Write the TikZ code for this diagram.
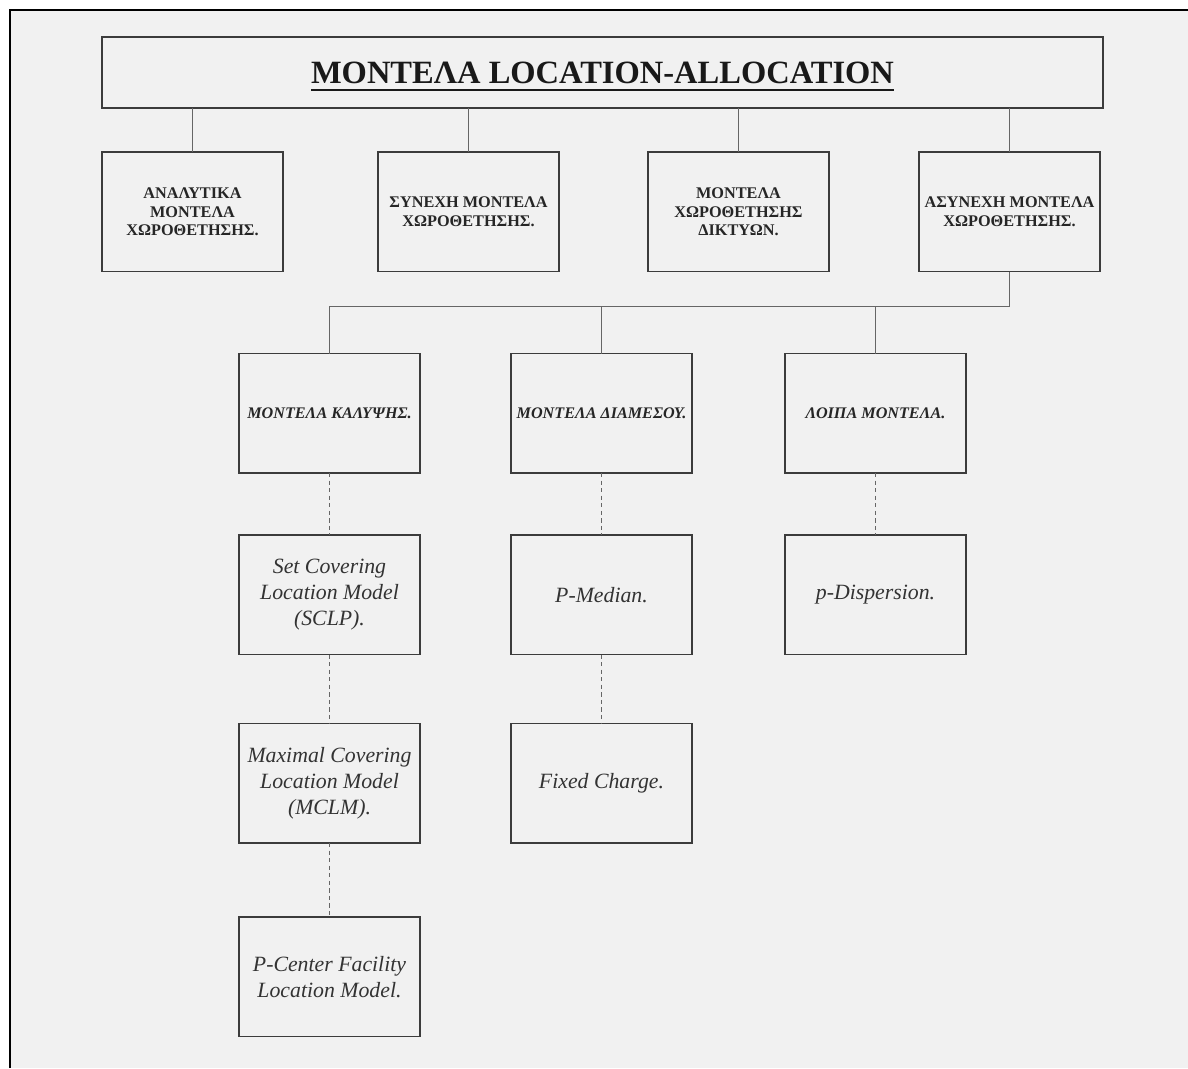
\documentclass[tikz,border=0pt]{standalone}
\usepackage{fontspec}
\setmainfont{Liberation Serif}
\usepackage{tikz}
\usetikzlibrary{positioning}
\definecolor{pagegray}{HTML}{F1F1F1}
\definecolor{boxline}{HTML}{3C3C3C}
\definecolor{wiregray}{HTML}{666666}
\definecolor{leaftext}{HTML}{333333}
\newcommand{\heavyunder}[1]{\setbox0\hbox{#1}\rlap{\smash{\rule[-4.5pt]{\wd0}{1.3pt}}}\box0}

\begin{document}
\begin{tikzpicture}[
		% Styles
		box/.style={rectangle, draw=boxline, line width=1.1pt, fill=pagegray, minimum width=3.62cm, minimum height=2.39cm, align=center, inner sep=2pt, outer sep=0pt},
		head_box/.style={box, minimum width=20.02cm, minimum height=1.42cm, font=\fontsize{18.5}{22}\selectfont\bfseries, text=black!90},
		group_box/.style={box, font=\fontsize{9.25}{10.5}\selectfont\bfseries, text=black!85},
		kind_box/.style={box, font=\fontsize{9.2}{11}\selectfont\bfseries\itshape, text=black!85},
		leaf_box/.style={box, font=\fontsize{12.4}{14.7}\selectfont\itshape, text=leaftext},
		link/.style={draw=wiregray, line width=0.7pt},
		dash_link/.style={link, line width=0.8pt, dash pattern=on 2.4pt off 1.9pt}
	]

	% --- Page ---
	\useasboundingbox (0,0) rectangle (23.76,-21.36);
	\fill[pagegray] (0.2,-0.2) rectangle (23.76,-21.36);
	\draw[line width=1.2pt] (0.2,-21.36) -- (0.2,-0.2) -- (23.76,-0.2);

	% --- Title ---
	\node[head_box] (title) at (12.05,-1.45) {\heavyunder{ΜΟΝΤΕΛΑ LOCATION-ALLOCATION}};

	% --- First level ---
	\node[group_box] (anal) [below=0.88cm of title.south west, anchor=north west] {ΑΝΑΛΥΤΙΚΑ\\ΜΟΝΤΕΛΑ\\ΧΩΡΟΘΕΤΗΣΗΣ.};
	\node[group_box] (syn) [right=1.9cm of anal] {ΣΥΝΕΧΗ ΜΟΝΤΕΛΑ\\ΧΩΡΟΘΕΤΗΣΗΣ.};
	\node[group_box] (dikt) [right=1.78cm of syn] {ΜΟΝΤΕΛΑ\\ΧΩΡΟΘΕΤΗΣΗΣ\\ΔΙΚΤΥΩΝ.};
	\node[group_box] (asyn) [right=1.8cm of dikt] {ΑΣΥΝΕΧΗ ΜΟΝΤΕΛΑ\\ΧΩΡΟΘΕΤΗΣΗΣ.};

	% --- Discrete model kinds ---
	\node[kind_box] (kal) [below=1.64cm of syn, xshift=-2.78cm] {ΜΟΝΤΕΛΑ ΚΑΛΥΨΗΣ.};
	\node[kind_box] (diam) [right=1.82cm of kal] {ΜΟΝΤΕΛΑ ΔΙΑΜΕΣΟΥ.};
	\node[kind_box] (loip) [right=1.86cm of diam] {ΛΟΙΠΑ ΜΟΝΤΕΛΑ.};

	% --- Models ---
	\node[leaf_box] (sclp) [below=1.24cm of kal] {Set Covering\\Location Model\\(SCLP).};
	\node[leaf_box] (mclm) [below=1.38cm of sclp] {Maximal Covering\\Location Model\\(MCLM).};
	\node[leaf_box] (pcent) [below=1.48cm of mclm] {P-Center Facility\\Location Model.};
	\node[leaf_box] (pmed) [below=1.24cm of diam] {P-Median.};
	\node[leaf_box] (fixed) [below=1.38cm of pmed] {Fixed Charge.};
	\node[leaf_box] (pdisp) [below=1.24cm of loip] {p-Dispersion.};

	% --- LINKS ---
	% Title to first level
	\draw[link] (anal.north |- title.south) -- (anal);
	\draw[link] (syn.north |- title.south) -- (syn);
	\draw[link] (dikt.north |- title.south) -- (dikt);
	\draw[link] (asyn.north |- title.south) -- (asyn);

	% Discrete models to kinds
	\coordinate (bus) at ([yshift=-0.7cm]asyn.south);
	\draw[link] (asyn) -- (bus) -| (kal);
	\draw[link] (bus) -| (diam);
	\draw[link] (bus) -| (loip);

	% Kinds to models
	\draw[dash_link] (kal) -- (sclp);
	\draw[dash_link] (sclp) -- (mclm);
	\draw[dash_link] (mclm) -- (pcent);
	\draw[dash_link] (diam) -- (pmed);
	\draw[dash_link] (pmed) -- (fixed);
	\draw[dash_link] (loip) -- (pdisp);

\end{tikzpicture}
\end{document}
